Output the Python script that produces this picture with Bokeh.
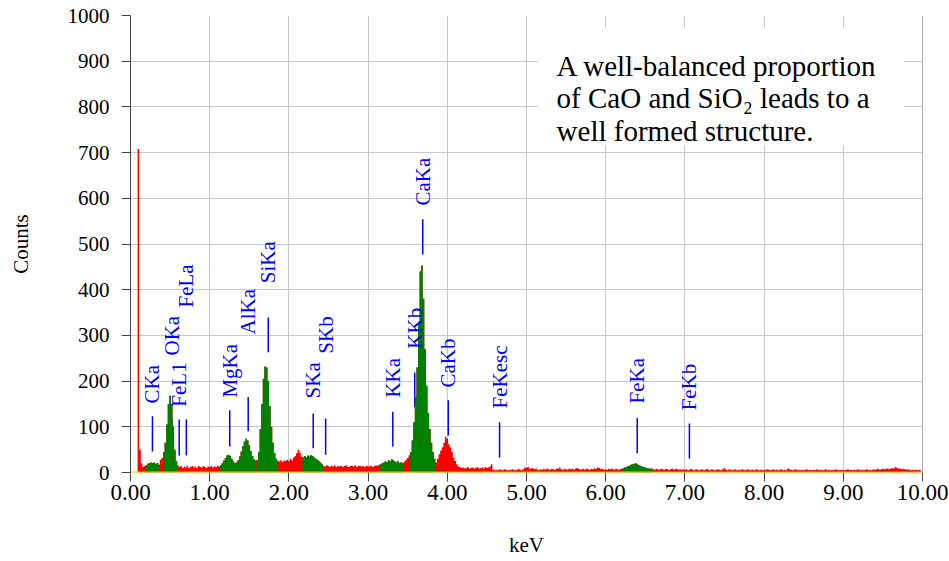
import math
from bokeh.plotting import figure
from bokeh.models import (Range1d, ColumnDataSource, Span, FixedTicker,
                          BoxAnnotation, NumeralTickFormatter)
from bokeh.core.properties import value
from bokeh.embed import file_html
from bokeh.resources import INLINE

# ---------------- data ----------------
channel_width_kev = 0.02
counts = [
    0, 0, 0, 0, 0, 708, 50, 20, 12, 14, 16, 19, 21, 22, 20, 22, 19, 21, 17, 28, 32, 45, 65, 105, 150,
    168, 150, 100, 50, 25, 16, 12, 14, 10, 13, 11, 15, 10, 12, 14, 11, 13, 10, 15, 12, 11, 14, 12, 10, 13,
    12, 14, 11, 13, 12, 15, 13, 16, 20, 26, 32, 37, 39, 36, 30, 24, 20, 22, 27, 35, 46, 58, 68, 74, 70,
    60, 47, 36, 29, 26, 28, 45, 95, 150, 205, 232, 230, 200, 145, 100, 65, 42, 30, 26, 24, 27, 23, 26, 25, 28,
    25, 30, 27, 33, 36, 42, 50, 44, 35, 33, 36, 34, 37, 35, 38, 36, 33, 30, 28, 25, 22, 18, 15, 13, 16,
    14, 12, 15, 13, 16, 12, 14, 13, 15, 12, 14, 16, 13, 12, 15, 14, 13, 16, 12, 14, 15, 13, 14, 12, 15,
    14, 13, 15, 12, 14, 16, 15, 17, 18, 20, 22, 24, 23, 27, 25, 29, 26, 24, 22, 25, 21, 23, 20, 24, 28,
    32, 38, 45, 70, 110, 165, 230, 330, 440, 453, 380, 270, 190, 130, 95, 65, 45, 30, 22, 30, 40, 48, 55, 65, 78,
    74, 62, 55, 45, 32, 25, 18, 13, 12, 10, 11, 9, 10, 12, 9, 10, 11, 9, 10, 12, 9, 10, 11, 9, 12,
    10, 11, 13, 18, 6, 5, 6, 5, 7, 6, 5, 7, 6, 5, 6, 5, 7, 6, 5, 6, 8, 6, 5, 7, 11,
    10, 12, 9, 8, 10, 7, 9, 6, 5, 7, 6, 8, 6, 9, 7, 6, 8, 7, 6, 9, 8, 11, 7, 6, 8,
    7, 6, 9, 7, 8, 6, 9, 10, 8, 6, 7, 8, 6, 9, 7, 6, 8, 7, 9, 8, 11, 10, 7, 8, 6,
    7, 6, 8, 7, 9, 6, 7, 8, 6, 7, 8, 9, 11, 12, 14, 15, 17, 18, 19, 20, 18, 16, 15, 13, 12,
    11, 10, 9, 8, 9, 7, 6, 8, 7, 6, 8, 7, 6, 8, 7, 6, 7, 9, 6, 7, 8, 6, 7, 6, 7,
    6, 7, 5, 6, 8, 6, 5, 7, 6, 5, 6, 7, 5, 6, 8, 6, 5, 7, 6, 5, 6, 7, 6, 5, 7,
    10, 6, 5, 7, 6, 5, 6, 7, 5, 6, 5, 7, 6, 5, 6, 7, 5, 6, 6, 5, 7, 6, 5, 6, 5,
    6, 5, 7, 6, 5, 6, 7, 5, 6, 5, 6, 7, 5, 6, 5, 9, 7, 6, 5, 6, 7, 5, 6, 5, 6,
    5, 6, 7, 5, 6, 5, 6, 5, 7, 6, 5, 6, 5, 6, 7, 5, 6, 5, 6, 5, 7, 6, 5, 6, 5,
    6, 5, 6, 7, 5, 6, 5, 6, 5, 7, 6, 5, 6, 5, 6, 7, 5, 6, 5, 7, 6, 7, 8, 6, 7,
    8, 7, 8, 9, 7, 8, 10, 9, 12, 10, 8, 9, 7, 8, 7, 6, 7, 6, 5, 6, 5, 6, 5, 6, 5,
]
energy = [round(i * channel_width_kev, 2) for i in range(len(counts))]

# regions of interest (green)
roi_lo = [0.19, 0.42, 1.14, 1.37, 1.61, 2.17, 3.16, 3.53, 6.22]
roi_hi = [0.37, 0.59, 1.37, 1.59, 1.85, 2.43, 3.45, 3.84, 6.59]

# element line markers
line_names = ["CKa", "OKa", "FeL1", "FeLa", "MgKa", "AlKa", "SiKa", "SKa", "SKb",
              "KKa", "KKb", "CaKa", "CaKb", "FeKesc", "FeKa", "FeKb"]
line_kev = [0.277, 0.525, 0.615, 0.705, 1.253, 1.486, 1.739, 2.307, 2.464,
            3.312, 3.589, 3.690, 4.012, 4.660, 6.398, 7.057]
line_lo = [46, 40, 37, 37, 57, 90, 263, 53, 39, 57, 143, 477, 81, 33, 42, 30]
line_hi = [123, 117, 116, 116, 136, 165, 339, 129, 118, 133, 219, 554, 158, 110, 119, 107]
label_y = [151, 256, 144, 361, 164, 302, 414, 162, 260, 164, 271, 584, 186, 140, 151, 136]

x_ticks = [0, 1, 2, 3, 4, 5, 6, 7, 8, 9, 10]
y_ticks = [0, 100, 200, 300, 400, 500, 600, 700, 800, 900, 1000]

note_lines = ["A well-balanced proportion",
              "of CaO and SiO\u2082 leads to a",
              "well formed structure."]
note_x = [5.38, 5.38, 5.38]
note_y = [890, 820, 748]

# ---------------- figure ----------------
FONT = "Liberation Serif"
p = figure(width=949, height=561, output_backend="svg", toolbar_location=None,
           x_range=Range1d(0, 10), y_range=Range1d(0, 1000),
           min_border_left=130, min_border_right=27, min_border_top=15,
           min_border_bottom=89, x_axis_label="keV", y_axis_label="Counts")
p.outline_line_color = None
p.background_fill_color = "white"
p.border_fill_color = "white"

p.xaxis.ticker = FixedTicker(ticks=x_ticks)
p.yaxis.ticker = FixedTicker(ticks=y_ticks)
p.xaxis.formatter = NumeralTickFormatter(format="0.00")
p.grid.grid_line_color = "#c8c8c8"
p.grid.grid_line_width = 1

for ax in (p.xaxis, p.yaxis):
    ax.major_label_text_font = FONT
    ax.major_label_text_color = "black"
    ax.axis_label_text_font = FONT
    ax.axis_label_text_font_size = "21px"
    ax.axis_label_text_font_style = "normal"
    ax.axis_label_text_color = "black"
    ax.minor_tick_line_color = None
    ax.major_tick_in = 0
    ax.major_tick_out = 9
    ax.major_tick_line_color = "#444444"
    ax.axis_line_color = "#444444"

p.yaxis.major_label_text_font_size = "21px"
p.xaxis.major_label_text_font_size = "23px"
p.xaxis.axis_line_color = None
p.xaxis.major_label_standoff = 3
p.xaxis.axis_label_standoff = 30
p.yaxis.major_label_standoff = 12
p.yaxis.axis_label_standoff = 32

# note box (under glyphs, above grid)
p.add_layout(BoxAnnotation(left=5.15, right=9.76, bottom=716, top=974, level="underlay",
                           fill_color="white", fill_alpha=1.0, line_color=None))

# markers (behind spectrum)
msrc = ColumnDataSource(dict(x=line_kev, lo=line_lo, hi=line_hi, ly=label_y, name=line_names))
p.segment(x0="x", y0="lo", x1="x", y1="hi", line_color="#0000ff", line_width=1.5, source=msrc)

# spectrum
green = []
for e, c in zip(energy, counts):
    inside = any(lo <= e <= hi for lo, hi in zip(roi_lo, roi_hi))
    green.append(c if inside else 0)
src = ColumnDataSource(dict(e=energy, c=counts, g=green))
p.varea_step(x="e", y1=0, y2="c", step_mode="center", fill_color="#ff0000", source=src)
p.varea_step(x="e", y1=0, y2="g", step_mode="center", fill_color="#008000", source=src)

# marker labels
p.text(x="x", y="ly", text="name", source=msrc, angle=math.pi / 2,
       text_align="left", text_baseline="middle", text_color="#0000ff",
       text_font=value(FONT), text_font_size="21px")

# note text
nsrc = ColumnDataSource(dict(x=note_x, y=note_y, t=note_lines))
p.text(x="x", y="y", text="t", source=nsrc, text_align="left",
       text_baseline="alphabetic", text_color="black",
       text_font=value(FONT), text_font_size="29px")

# baseline and right edge
p.add_layout(Span(location=0, dimension="width", line_color="#e0d000", line_width=2))
p.add_layout(Span(location=10, dimension="height", line_color="#666666", line_width=1))

open("out.html", "w").write(file_html(p, INLINE))
